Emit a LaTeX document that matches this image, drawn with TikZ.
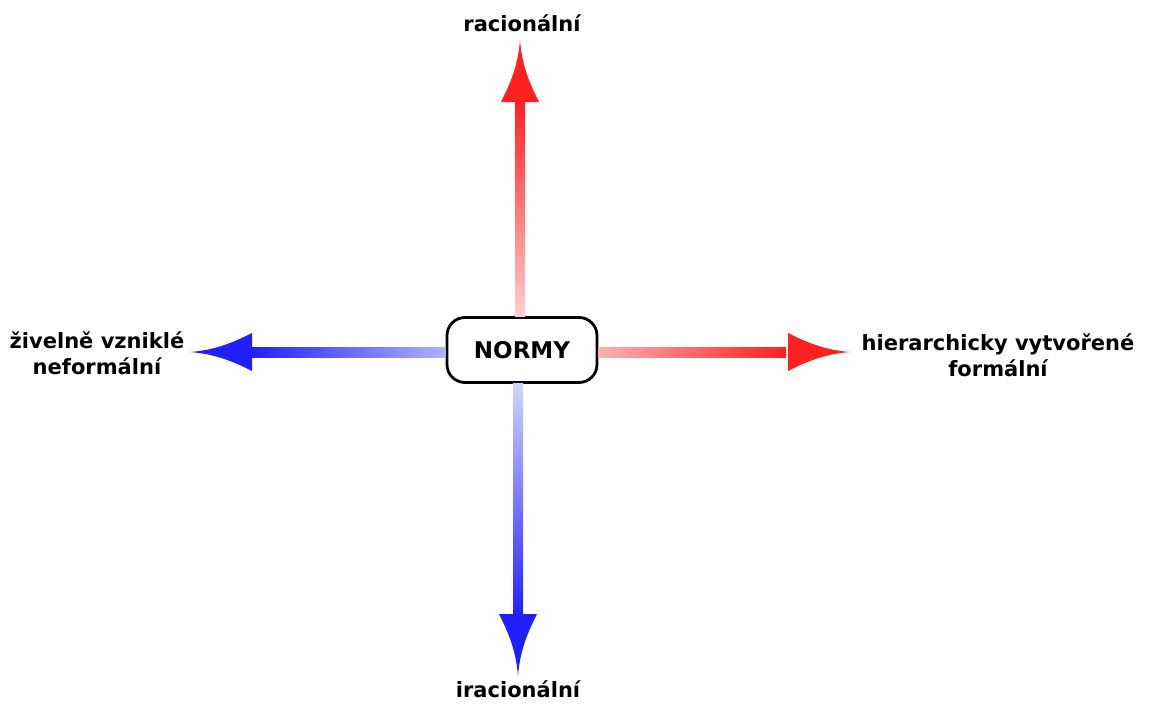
\documentclass[tikz,border=0pt]{standalone}
\usepackage{fontspec}
\setmainfont{DejaVu Sans}
\usetikzlibrary{calc}
\definecolor{cervena}{RGB}{255,32,32}
\definecolor{modra}{RGB}{32,32,255}
\tikzset{
  popisek/.style={font=\bfseries\fontsize{21}{26}\selectfont, align=center, inner sep=0pt},
  normybox/.style={draw, line width=2.8pt, rounded corners=18pt, minimum width=150pt, minimum height=65pt, font=\bfseries\fontsize{23}{25}\selectfont},
  hrot/.pic={\fill (0,0) .. controls (-26,2) and (-44,10) .. (-62,19) -- (-62,-19) .. controls (-44,-10) and (-26,-2) .. (0,0);}
}
\begin{document}
\begin{tikzpicture}[x=1pt,y=-1pt]
	\useasboundingbox (0,0) rectangle (1149,704);
	
	% Stred
	\node (normy) [normybox] at (522,350) {NORMY};
	
	% Popisky
	\node (rac) [popisek] at (522,23) {racionální};
	\node (irac) [popisek] at (518,689) {iracionální};
	\node (ziv) [popisek] at (97,353) {živelně vzniklé\\neformální};
	\node (hier) [popisek] at (998,355) {hierarchicky vytvořené\\formální};
	
	% Hroty sipek
	\coordinate (nahoru) at (520,40);
	\coordinate (dolu) at (518,676);
	\coordinate (vlevo) at (190,352);
	\coordinate (vpravo) at (850,352);
	
	% Nahoru
	\shade[top color=cervena, bottom color=cervena!22] ($(nahoru)+(-5,60)$) rectangle ($(normy.north-|nahoru)+(5,0)$);
	\pic[cervena, rotate=90] at (nahoru) {hrot};
	
	% Dolu
	\shade[top color=modra!20, bottom color=modra] ($(normy.south-|dolu)+(-5,0)$) rectangle ($(dolu)+(5,-60)$);
	\pic[modra, rotate=-90] at (dolu) {hrot};
	
	% Vlevo
	\shade[left color=modra, right color=modra!35] ($(vlevo)+(60,-5)$) rectangle ($(normy.west|-vlevo)+(0,5)$);
	\pic[modra, rotate=180] at (vlevo) {hrot};
	
	% Vpravo
	\shade[left color=cervena!35, right color=cervena] ($(normy.east|-vpravo)+(0,-5)$) rectangle ($(vpravo)+(-64,5)$);
	\pic[cervena] at (vpravo) {hrot};
	
\end{tikzpicture}
\end{document}
